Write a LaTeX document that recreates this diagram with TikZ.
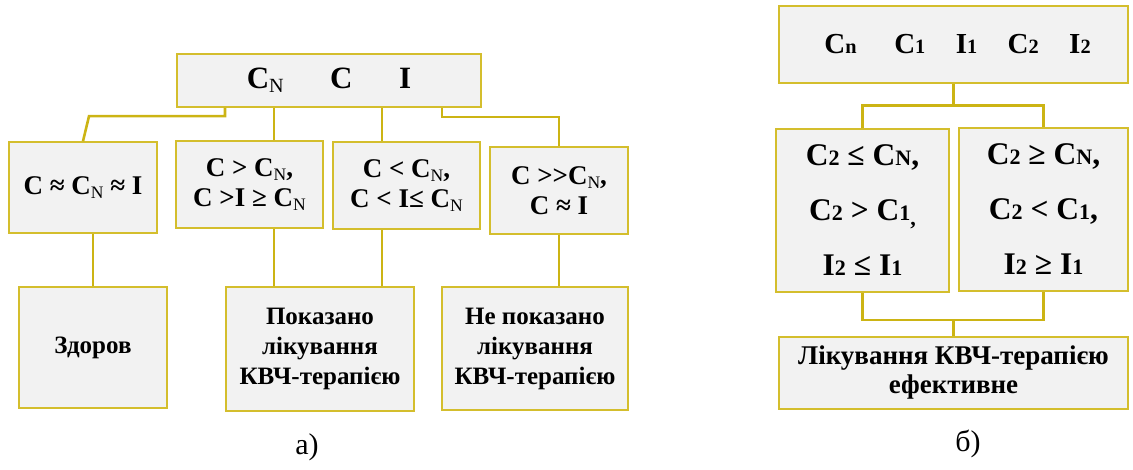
\documentclass[tikz,border=0pt]{standalone}
\usepackage{fontspec}
\setmainfont{Liberation Serif}
\usepackage{graphicx}
\usepackage{tikz}
\definecolor{boxgold}{RGB}{212,190,45}
\definecolor{linkgold}{RGB}{204,180,20}
\definecolor{boxgray}{RGB}{242,242,242}
\newcommand{\lowN}{\raisebox{-0.3ex}{\scalebox{0.65}{\mdseries N}}}
\newcommand{\sm}[1]{\scalebox{0.7}{#1}}

\begin{document}
\begin{tikzpicture}[box/.style={draw=boxgold, fill=boxgray, line width=1.6pt, inner sep=0pt, align=center}, link/.style={draw=linkgold, line width=2.6pt}, cond/.style={font=\fontsize{27pt}{30pt}\selectfont\bfseries}, verdict/.style={font=\fontsize{25pt}{30pt}\selectfont\bfseries}, rule/.style={font=\fontsize{31.5pt}{55pt}\selectfont\bfseries}]
\useasboundingbox (0pt, 0pt) rectangle (1133pt, -470pt);
\draw (329.0pt, -80.5pt)node[box, minimum width=304pt, minimum height=53pt, font=\fontsize{31pt}{36pt}\selectfont\bfseries](a0){C\lowN\hspace{1.5em}C\hspace{1.5em}I};
\draw (83.0pt, -187.5pt)node[box, cond, minimum width=148pt, minimum height=91pt](a1){C ≈ C\lowN\ ≈ I};
\draw (249.5pt, -184.5pt)node[box, cond, minimum width=147pt, minimum height=87pt](a2){C > C\lowN,\\C >I ≥ C\lowN};
\draw (406.5pt, -185.5pt)node[box, cond, minimum width=147pt, minimum height=87pt](a3){C < C\lowN,\\C < I≤ C\lowN};
\draw (559.0pt, -190.5pt)node[box, cond, minimum width=138pt, minimum height=87pt](a4){C >{}>C\lowN,\\C ≈ I};
\draw (93.0pt, -347.5pt)node[box, verdict, minimum width=148pt, minimum height=121pt](a5){Здоров};
\draw (320.0pt, -349.0pt)node[box, verdict, minimum width=188pt, minimum height=124pt](a6){Показано\\лікування\\КВЧ-терапією};
\draw (535.0pt, -348.5pt)node[box, verdict, minimum width=186pt, minimum height=123pt](a7){Не показано\\лікування\\КВЧ-терапією};
\draw (307.0pt, -447.0pt)node[font=\fontsize{30pt}{34pt}\selectfont](la){а)};
\draw (953.5pt, -44.5pt)node[box, minimum width=349pt, minimum height=77pt, font=\fontsize{29pt}{34pt}\selectfont\bfseries](b0){\hspace*{8pt}C\sm{n}\hspace{1.3em}C\sm{1}\hspace{1.05em}I\sm{1}\hspace{1.05em}C\sm{2}\hspace{1.05em}I\sm{2}};
\draw (862.5pt, -210.5pt)node[box, rule, minimum width=173pt, minimum height=163pt](b1){C\sm{2} ≤ C\sm{N},\\C\sm{2} > C\sm{1}\raisebox{-0.3ex}{\sm{,}}\\I\sm{2} ≤ I\sm{1}};
\draw (1043.5pt, -209.5pt)node[box, rule, minimum width=169pt, minimum height=163pt](b2){C\sm{2} ≥ C\sm{N},\\C\sm{2} < C\sm{1},\\I\sm{2} ≥ I\sm{1}};
\draw (953.5pt, -373.0pt)node[box, minimum width=349pt, minimum height=72pt, font=\fontsize{27pt}{29pt}\selectfont\bfseries](b3){Лікування КВЧ-терапією\\ефективне};
\draw (968.0pt, -444.0pt)node[font=\fontsize{30pt}{34pt}\selectfont](lb){б)};
\draw[link] (a1.north) -- ++(6pt, 25pt) -| ([xshift=-104pt]a0.south);
\draw[link] ([xshift=24.5pt]a2.north) -- ([xshift=24.5pt]a2.north |- a0.south);
\draw[link] ([xshift=-24.5pt]a3.north) -- ([xshift=-24.5pt]a3.north |- a0.south);
\draw[link] (a4.north) -- ++(0pt, 29pt) -| ([xshift=113pt]a0.south);
\draw[link] (a5.north) -- (a5.north |- a1.south);
\draw[link] ([xshift=-46pt]a6.north) -- ([xshift=-46pt]a6.north |- a2.south);
\draw[link] ([xshift=62pt]a6.north) -- ([xshift=62pt]a6.north |- a3.south);
\draw[link] (a4.south) -- (a4.south |- a7.north);
\draw[link] (b0.south) -- ++(0pt, -22pt);
\draw[link] (b1.north) |- ([yshift=-22pt]b0.south) -| (b2.north);
\draw[link] (b1.south) |- ([yshift=16pt]b3.north) -| (b2.south);
\draw[link] (b3.north) -- ++(0pt, 16pt);
\end{tikzpicture}
\end{document}
